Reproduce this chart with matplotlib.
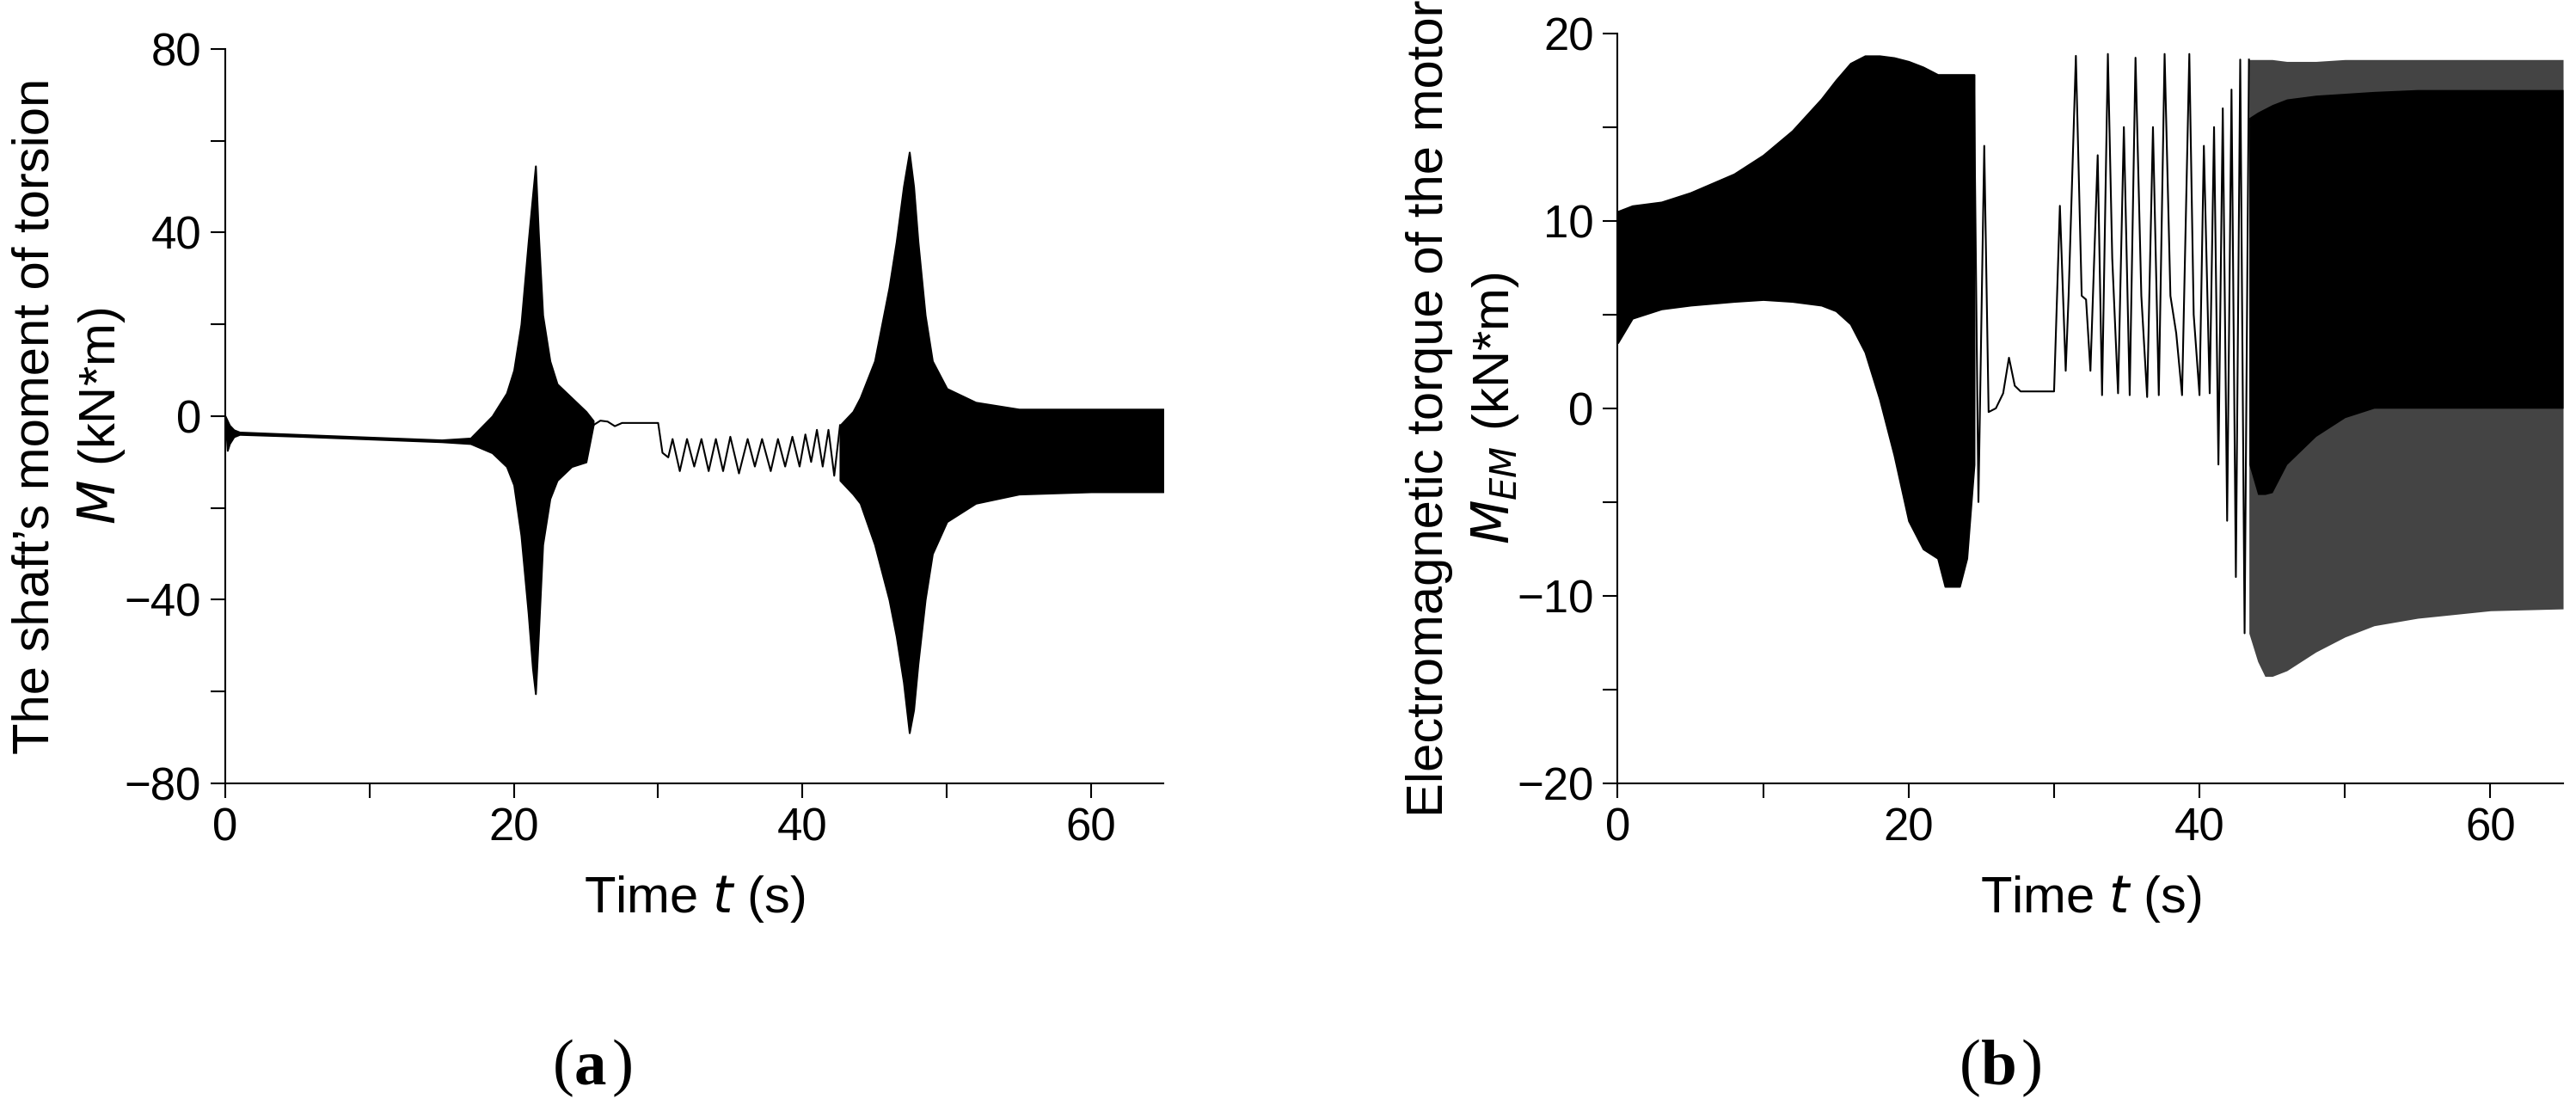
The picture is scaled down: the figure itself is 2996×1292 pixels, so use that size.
import matplotlib.pyplot as plt
from matplotlib.ticker import MultipleLocator

plt.rcParams["font.family"] = ["Liberation Sans", "DejaVu Sans"]

# ---- panel (a): shaft torsion moment, kN*m ----
# dense oscillation envelopes (time, upper, lower)
a_env1_t = [0.0, 0.15, 0.3, 0.6, 1.0, 5, 10, 15, 17, 18.5, 19.5, 20.0, 20.5, 21.0, 21.3, 21.5, 21.7, 22.0, 22.5, 23.0, 24.0, 25.0, 25.5]
a_env1_hi = [0.0, -1.0, -2.0, -3.0, -3.5, -4.0, -4.6, -5.2, -4.8, 0.0, 5.0, 10.0, 20.0, 38.0, 48.0, 54.5, 40.0, 22.0, 12.0, 7.0, 4.0, 1.0, -1.0]
a_env1_lo = [0.0, -7.5, -6.0, -4.5, -4.0, -4.4, -5.0, -5.6, -6.0, -8.0, -11.0, -15.0, -26.0, -43.0, -55.0, -60.5, -48.0, -28.0, -18.0, -14.0, -11.0, -10.0, -2.0]
a_env2_t = [42.6, 43.5, 44.0, 45.0, 46.0, 46.5, 47.0, 47.4, 47.7, 48.0, 48.5, 49.0, 50.0, 52.0, 55.0, 60.0, 65.0]
a_env2_hi = [-2.0, 1.0, 4.0, 12.0, 28.0, 38.0, 50.0, 57.5, 50.0, 38.0, 22.0, 12.0, 6.0, 3.0, 1.5, 1.5, 1.5]
a_env2_lo = [-14.0, -17.0, -19.0, -28.0, -40.0, -48.0, -58.0, -69.0, -64.0, -54.0, -40.0, -30.0, -23.0, -19.0, -17.0, -16.5, -16.5]
# sparse parts drawn as lines
a_line_t = [25.5, 26.0, 26.5, 27.0, 27.5, 28.0, 30.0, 30.3, 30.7, 31.0, 31.5, 32.0, 32.5, 33.0, 33.5, 34.0, 34.5, 35.0, 35.6,
            36.2, 36.7, 37.2, 37.8, 38.3, 38.8, 39.3, 39.8, 40.2, 40.6, 41.0, 41.4, 41.8, 42.2, 42.6]
a_line_v = [-2.0, -1.0, -1.2, -2.2, -1.5, -1.5, -1.5, -8.0, -9.0, -5.0, -12.0, -5.0, -11.0, -5.0, -12.0, -5.0, -12.0, -4.5, -12.5,
            -5.0, -11.0, -5.0, -12.0, -5.0, -11.0, -4.5, -11.0, -4.0, -10.0, -3.0, -11.0, -3.0, -13.0, -2.0]

# ---- panel (b): electromagnetic torque of the motor, kN*m ----
b_env1_t = [0, 1, 3, 5, 8, 10, 12, 14, 15, 16, 17, 18, 19, 20, 21, 22, 22.5, 23.0, 23.5, 24.0, 24.5]
b_env1_hi = [10.5, 10.8, 11.0, 11.5, 12.5, 13.5, 14.8, 16.5, 17.5, 18.4, 18.8, 18.8, 18.7, 18.5, 18.2, 17.8, 17.8, 17.8, 17.8, 17.8, 17.8]
b_env1_lo = [3.5, 4.8, 5.3, 5.5, 5.7, 5.8, 5.7, 5.5, 5.2, 4.5, 3.0, 0.5, -2.5, -6.0, -7.5, -8.0, -9.5, -9.5, -9.5, -8.0, -3.0]
b_env2_t = [43.4, 44.0, 44.5, 45.0, 46.0, 48.0, 50.0, 52.0, 55.0, 60.0, 65.0]
b_env2_hi = [18.6, 18.6, 18.6, 18.6, 18.5, 18.5, 18.6, 18.6, 18.6, 18.6, 18.6]
b_env2_lo = [-12.0, -13.5, -14.3, -14.3, -14.0, -13.0, -12.2, -11.6, -11.2, -10.8, -10.7]
b_core_hi = [15.5, 15.8, 16.0, 16.2, 16.5, 16.7, 16.8, 16.9, 17.0, 17.0, 17.0]
b_core_lo = [-3.0, -4.6, -4.6, -4.5, -3.0, -1.5, -0.5, 0.0, 0.0, 0.0, 0.0]
b_line_t = [24.5, 24.8, 25.2, 25.5, 26.0, 26.5, 26.9, 27.3, 27.7, 30.0, 30.4, 30.8, 31.0, 31.5, 31.9, 32.2, 32.5, 33.0, 33.3,
            33.7, 34.0, 34.4, 34.8, 35.2, 35.6, 36.0, 36.4, 36.8, 37.2, 37.6, 38.0, 38.4, 38.8, 39.3, 39.6, 40.0, 40.3,
            40.7, 41.0, 41.3, 41.6, 41.9, 42.2, 42.5, 42.8, 43.1, 43.4]
b_line_v = [17.0, -5.0, 14.0, -0.2, 0.0, 0.8, 2.7, 1.2, 0.9, 0.9, 10.8, 2.0, 6.0, 18.8, 6.0, 5.8, 2.0, 13.5, 0.7,
            18.9, 8.0, 0.8, 15.0, 0.7, 18.7, 6.0, 0.6, 15.0, 0.7, 18.9, 6.0, 4.0, 0.7, 18.9, 5.0, 0.7, 14.0,
            0.8, 15.0, -3.0, 16.0, -6.0, 17.0, -9.0, 18.6, -12.0, 18.6]


def style_axes(ax, ymajor, yminor):
    ax.set_xlim(0, 65)
    ax.xaxis.set_major_locator(MultipleLocator(20))
    ax.xaxis.set_minor_locator(MultipleLocator(10))
    ax.yaxis.set_major_locator(MultipleLocator(ymajor))
    ax.yaxis.set_minor_locator(MultipleLocator(yminor))
    for s in ("top", "right"):
        ax.spines[s].set_visible(False)
    for s in ("left", "bottom"):
        ax.spines[s].set_linewidth(1.5)
    ax.tick_params(which="major", direction="out", length=12, width=1.5, labelsize=38, pad=8)
    ax.tick_params(which="minor", direction="out", length=12, width=1.5)
    ax.set_xlabel("Time $\\it{t}$ (s)", fontsize=43, labelpad=20)


fig = plt.figure(figsize=(29.96, 12.92), dpi=100)
ax1 = fig.add_axes([0.0874, 0.295, 0.3642, 0.661])
ax2 = fig.add_axes([0.628, 0.295, 0.367, 0.675])

k = "black"
ax1.fill_between(a_env1_t, a_env1_lo, a_env1_hi, color=k, lw=1.5)
ax1.fill_between(a_env2_t, a_env2_lo, a_env2_hi, color=k, lw=1.5)
ax1.plot(a_line_t, a_line_v, color=k, lw=1.5)
ax1.set_ylim(-80, 80)
style_axes(ax1, 40, 20)
ax1.set_yticks([-80, -40, 0, 40, 80], ["\u221280", "\u221240", "0", "40", "80"])
ax1.text(-0.202, 0.5, "The shaft\u2019s moment of torsion", rotation=90, fontsize=43,
         ha="center", va="center", transform=ax1.transAxes)
ax1.text(-0.132, 0.5, "$\\it{M}$ (kN*m)", rotation=90, fontsize=43,
         ha="center", va="center", transform=ax1.transAxes)

ax2.fill_between(b_env1_t, b_env1_lo, b_env1_hi, color=k, lw=1.5)
ax2.fill_between(b_env2_t, b_env2_lo, b_env2_hi, color="#444444", lw=0)
ax2.fill_between(b_env2_t, b_core_lo, b_core_hi, color=k, lw=0)
ax2.plot(b_line_t, b_line_v, color=k, lw=1.5)
ax2.set_ylim(-20, 20)
style_axes(ax2, 10, 5)
ax2.set_yticks([-20, -10, 0, 10, 20], ["\u221220", "\u221210", "0", "10", "20"])
ax2.text(-0.199, 0.5, "Electromagnetic torque of the motor", rotation=90, fontsize=43,
         ha="center", va="center", transform=ax2.transAxes)
ax2.text(-0.130, 0.5, "$\\it{M}_{\\it{EM}}$ (kN*m)", rotation=90, fontsize=43,
         ha="center", va="center", transform=ax2.transAxes)

serif = "Liberation Serif"
fig.text(0.223, 0.038, "(", fontsize=54, family=serif, ha="right", va="center")
fig.text(0.223, 0.038, "a", fontsize=54, family=serif, weight="bold", ha="left", va="center")
fig.text(0.2375, 0.038, ")", fontsize=54, family=serif, ha="left", va="center")
fig.text(0.769, 0.038, "(", fontsize=54, family=serif, ha="right", va="center")
fig.text(0.769, 0.038, "b", fontsize=54, family=serif, weight="bold", ha="left", va="center")
fig.text(0.7845, 0.038, ")", fontsize=54, family=serif, ha="left", va="center")

fig.savefig("out.png", dpi=100)
